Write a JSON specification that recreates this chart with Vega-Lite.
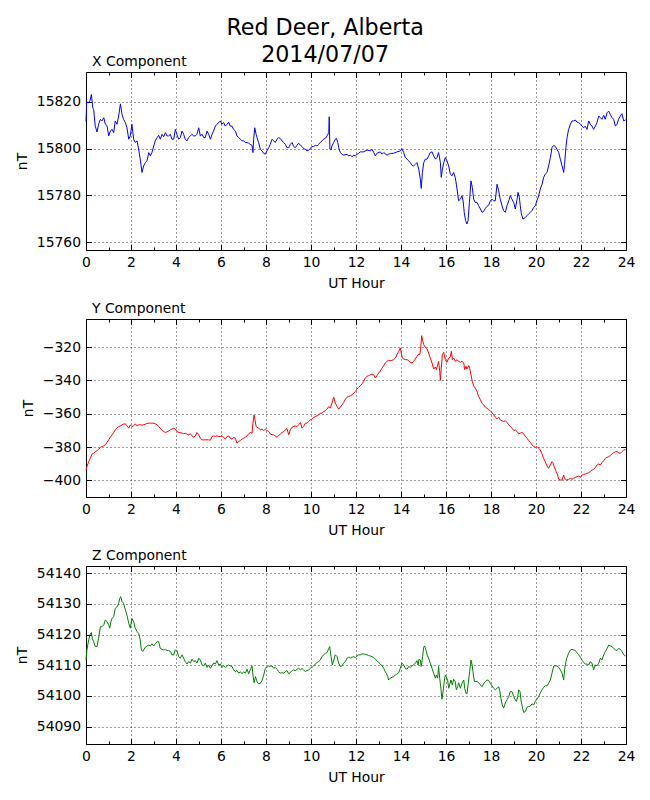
{
  "$schema": "https://vega.github.io/schema/vega-lite/v6.json",
  "background": "white",
  "padding": {"left": 14, "top": 17, "right": 10, "bottom": 10},
  "title": {"text": ["Red Deer, Alberta", "2014/07/07"], "fontSize": 22.2, "lineHeight": 27, "anchor": "middle", "offset": -12},
  "config": {
    "font": "DejaVu Sans",
    "view": {"stroke": "#000", "strokeWidth": 1},
    "axis": {"domain": false, "grid": false, "labelFontSize": 13.9, "labelColor": "#000", "titleFontSize": 13.9, "titleFontWeight": "normal", "titleColor": "#000", "tickColor": "#000", "tickWidth": 1, "gridColor": "#000", "gridDash": [1, 3], "gridWidth": 0.8, "labelFlush": false, "labelOverlap": false},
    "title": {"fontWeight": "normal", "color": "#000"}
  },
  "datasets": {
    "x": [
      {"h":0,"v":15811.5},{"h":0.03,"v":15820},{"h":0.1,"v":15819.5},{"h":0.18,"v":15820.5},{"h":0.24,"v":15823.1},{"h":0.3,"v":15817.4},{"h":0.34,"v":15816.7},{"h":0.41,"v":15809.6},{"h":0.49,"v":15807.1},{"h":0.56,"v":15810.4},{"h":0.64,"v":15812.5},{"h":0.71,"v":15811.8},{"h":0.79,"v":15813.2},{"h":0.86,"v":15810.4},{"h":0.93,"v":15809.9},{"h":1.01,"v":15805.4},{"h":1.08,"v":15807.5},{"h":1.16,"v":15808.2},{"h":1.23,"v":15806.8},{"h":1.3,"v":15811.8},{"h":1.38,"v":15810.4},{"h":1.45,"v":15813.9},{"h":1.53,"v":15819.1},{"h":1.6,"v":15814.6},{"h":1.67,"v":15812.5},{"h":1.75,"v":15811.1},{"h":1.82,"v":15808.9},{"h":1.9,"v":15804},{"h":1.97,"v":15805.4},{"h":2.04,"v":15810.4},{"h":2.12,"v":15804},{"h":2.19,"v":15802.6},{"h":2.27,"v":15803.3},{"h":2.34,"v":15799.7},{"h":2.41,"v":15795.5},{"h":2.49,"v":15789.8},{"h":2.56,"v":15792.6},{"h":2.64,"v":15794},{"h":2.71,"v":15794.8},{"h":2.79,"v":15798.3},{"h":2.86,"v":15796.9},{"h":2.93,"v":15798.3},{"h":3.01,"v":15801.1},{"h":3.08,"v":15803.3},{"h":3.16,"v":15804.7},{"h":3.23,"v":15805.7},{"h":3.3,"v":15804},{"h":3.38,"v":15806.1},{"h":3.45,"v":15805.1},{"h":3.53,"v":15806.8},{"h":3.6,"v":15805.4},{"h":3.67,"v":15805.4},{"h":3.75,"v":15806.1},{"h":3.82,"v":15804},{"h":3.9,"v":15804},{"h":3.97,"v":15808.2},{"h":4.04,"v":15806.1},{"h":4.12,"v":15804},{"h":4.19,"v":15804.7},{"h":4.27,"v":15807.5},{"h":4.34,"v":15806.1},{"h":4.41,"v":15804},{"h":4.49,"v":15803.3},{"h":4.56,"v":15804.7},{"h":4.64,"v":15805.4},{"h":4.71,"v":15806.1},{"h":4.79,"v":15805.4},{"h":4.86,"v":15805.4},{"h":4.93,"v":15806.1},{"h":5.01,"v":15808.9},{"h":5.08,"v":15805.4},{"h":5.16,"v":15806.1},{"h":5.23,"v":15804.7},{"h":5.3,"v":15804.7},{"h":5.38,"v":15807.5},{"h":5.45,"v":15806.1},{"h":5.53,"v":15804},{"h":5.6,"v":15806.1},{"h":5.67,"v":15807.5},{"h":5.75,"v":15809.6},{"h":5.82,"v":15810.4},{"h":5.9,"v":15811.1},{"h":5.97,"v":15811.8},{"h":6.04,"v":15810.4},{"h":6.12,"v":15811.1},{"h":6.19,"v":15809.6},{"h":6.27,"v":15810.4},{"h":6.34,"v":15811.3},{"h":6.41,"v":15809.6},{"h":6.49,"v":15809.6},{"h":6.56,"v":15808.2},{"h":6.64,"v":15807.5},{"h":6.71,"v":15805.4},{"h":6.79,"v":15804.7},{"h":6.86,"v":15804},{"h":6.93,"v":15803.3},{"h":7.01,"v":15803.3},{"h":7.08,"v":15802.6},{"h":7.16,"v":15802.6},{"h":7.23,"v":15802.3},{"h":7.3,"v":15801.8},{"h":7.38,"v":15801.4},{"h":7.42,"v":15798.3},{"h":7.45,"v":15804},{"h":7.5,"v":15808.9},{"h":7.56,"v":15806.1},{"h":7.6,"v":15804.7},{"h":7.67,"v":15802.6},{"h":7.75,"v":15799.7},{"h":7.82,"v":15799},{"h":7.9,"v":15797.9},{"h":7.97,"v":15797.6},{"h":8.04,"v":15799},{"h":8.12,"v":15800.4},{"h":8.19,"v":15801.8},{"h":8.27,"v":15804},{"h":8.34,"v":15803.3},{"h":8.41,"v":15802.6},{"h":8.49,"v":15804},{"h":8.56,"v":15804.7},{"h":8.64,"v":15804.3},{"h":8.71,"v":15803.3},{"h":8.79,"v":15802.6},{"h":8.86,"v":15801.8},{"h":8.93,"v":15800.4},{"h":9.01,"v":15800.4},{"h":9.08,"v":15801.8},{"h":9.16,"v":15802.6},{"h":9.23,"v":15800.9},{"h":9.3,"v":15800.4},{"h":9.38,"v":15801.4},{"h":9.45,"v":15802.3},{"h":9.53,"v":15801.4},{"h":9.6,"v":15800.9},{"h":9.67,"v":15800},{"h":9.75,"v":15799.7},{"h":9.82,"v":15799},{"h":9.9,"v":15799.4},{"h":9.97,"v":15800},{"h":10.04,"v":15800.9},{"h":10.12,"v":15800.9},{"h":10.19,"v":15801.4},{"h":10.27,"v":15801.1},{"h":10.34,"v":15801.8},{"h":10.41,"v":15802.6},{"h":10.49,"v":15803.3},{"h":10.56,"v":15804},{"h":10.64,"v":15804.4},{"h":10.71,"v":15805.4},{"h":10.79,"v":15806.8},{"h":10.81,"v":15813.6},{"h":10.84,"v":15799.7},{"h":10.89,"v":15799.4},{"h":10.93,"v":15801.1},{"h":11.01,"v":15802.6},{"h":11.08,"v":15804},{"h":11.13,"v":15804.4},{"h":11.19,"v":15802.6},{"h":11.23,"v":15800.4},{"h":11.3,"v":15798.3},{"h":11.38,"v":15797.6},{"h":11.45,"v":15797.2},{"h":11.6,"v":15797.6},{"h":11.67,"v":15796.9},{"h":11.75,"v":15797.2},{"h":11.82,"v":15796.5},{"h":11.9,"v":15797.2},{"h":11.97,"v":15796.9},{"h":12.04,"v":15797.5},{"h":12.12,"v":15798},{"h":12.19,"v":15798.6},{"h":12.34,"v":15798.6},{"h":12.49,"v":15799.4},{"h":12.64,"v":15799},{"h":12.71,"v":15799.7},{"h":12.79,"v":15798.3},{"h":12.86,"v":15796.9},{"h":12.93,"v":15798},{"h":13.08,"v":15798.6},{"h":13.16,"v":15797.6},{"h":13.23,"v":15798.3},{"h":13.38,"v":15797.2},{"h":13.45,"v":15797.6},{"h":13.53,"v":15797.9},{"h":13.67,"v":15798},{"h":13.82,"v":15798.6},{"h":13.97,"v":15799},{"h":14.04,"v":15800},{"h":14.12,"v":15798.3},{"h":14.19,"v":15796.2},{"h":14.27,"v":15795.5},{"h":14.34,"v":15794.8},{"h":14.41,"v":15794},{"h":14.49,"v":15792.9},{"h":14.56,"v":15792.6},{"h":14.64,"v":15793.3},{"h":14.71,"v":15794},{"h":14.79,"v":15791.2},{"h":14.86,"v":15786.9},{"h":14.9,"v":15783},{"h":14.95,"v":15789.8},{"h":15.01,"v":15794},{"h":15.08,"v":15795.5},{"h":15.16,"v":15795.5},{"h":15.23,"v":15796.9},{"h":15.3,"v":15798.3},{"h":15.38,"v":15798.6},{"h":15.45,"v":15796.9},{"h":15.53,"v":15795.5},{"h":15.6,"v":15796.2},{"h":15.67,"v":15798.3},{"h":15.75,"v":15794},{"h":15.79,"v":15787.7},{"h":15.84,"v":15791.2},{"h":15.9,"v":15794},{"h":15.97,"v":15796.2},{"h":16.04,"v":15794.8},{"h":16.12,"v":15792.6},{"h":16.19,"v":15789.1},{"h":16.27,"v":15788.4},{"h":16.34,"v":15789.8},{"h":16.41,"v":15787.7},{"h":16.46,"v":15784.8},{"h":16.52,"v":15780.6},{"h":16.56,"v":15777.7},{"h":16.64,"v":15778.4},{"h":16.71,"v":15779.9},{"h":16.76,"v":15777.7},{"h":16.81,"v":15772.8},{"h":16.87,"v":15769.2},{"h":16.93,"v":15767.8},{"h":16.98,"v":15769.2},{"h":17.04,"v":15777},{"h":17.11,"v":15786.2},{"h":17.17,"v":15783.4},{"h":17.23,"v":15778.4},{"h":17.3,"v":15777},{"h":17.38,"v":15777},{"h":17.45,"v":15775.6},{"h":17.53,"v":15774.2},{"h":17.6,"v":15772.8},{"h":17.67,"v":15773.1},{"h":17.75,"v":15774.5},{"h":17.82,"v":15775.3},{"h":17.9,"v":15775.9},{"h":17.97,"v":15777.7},{"h":18.04,"v":15778.4},{"h":18.12,"v":15777.7},{"h":18.19,"v":15777.7},{"h":18.27,"v":15784.8},{"h":18.34,"v":15782},{"h":18.41,"v":15778.4},{"h":18.49,"v":15775.6},{"h":18.56,"v":15773.5},{"h":18.64,"v":15772.8},{"h":18.71,"v":15775.6},{"h":18.79,"v":15777.7},{"h":18.86,"v":15779.9},{"h":18.93,"v":15778.4},{"h":19.01,"v":15777},{"h":19.08,"v":15774.2},{"h":19.16,"v":15778.4},{"h":19.2,"v":15781.3},{"h":19.26,"v":15779.2},{"h":19.3,"v":15775.6},{"h":19.35,"v":15772.1},{"h":19.42,"v":15769.9},{"h":19.53,"v":15770.6},{"h":19.6,"v":15771.4},{"h":19.67,"v":15772.1},{"h":19.75,"v":15772.8},{"h":19.82,"v":15773.5},{"h":19.9,"v":15774.9},{"h":19.97,"v":15775.6},{"h":20.04,"v":15777.7},{"h":20.12,"v":15779.9},{"h":20.19,"v":15782.7},{"h":20.27,"v":15784.8},{"h":20.34,"v":15787.7},{"h":20.41,"v":15789.1},{"h":20.49,"v":15789.8},{"h":20.56,"v":15792.6},{"h":20.64,"v":15796.2},{"h":20.71,"v":15800.4},{"h":20.79,"v":15801.4},{"h":20.86,"v":15800.9},{"h":20.93,"v":15799.7},{"h":21.01,"v":15798.3},{"h":21.08,"v":15795.5},{"h":21.16,"v":15792.6},{"h":21.23,"v":15789.8},{"h":21.27,"v":15793.3},{"h":21.33,"v":15800.4},{"h":21.38,"v":15804.7},{"h":21.45,"v":15808.2},{"h":21.53,"v":15810.4},{"h":21.6,"v":15811.8},{"h":21.67,"v":15811.8},{"h":21.75,"v":15812.2},{"h":21.82,"v":15811.3},{"h":21.9,"v":15811.1},{"h":21.97,"v":15810.4},{"h":22.04,"v":15809.6},{"h":22.12,"v":15808.9},{"h":22.19,"v":15809.6},{"h":22.27,"v":15808.2},{"h":22.34,"v":15811.8},{"h":22.41,"v":15810.4},{"h":22.49,"v":15809.6},{"h":22.56,"v":15808.2},{"h":22.64,"v":15809.6},{"h":22.71,"v":15811.1},{"h":22.79,"v":15813.9},{"h":22.86,"v":15813.2},{"h":22.93,"v":15812.5},{"h":23.01,"v":15814.2},{"h":23.08,"v":15812.5},{"h":23.16,"v":15815.3},{"h":23.23,"v":15816},{"h":23.3,"v":15814.6},{"h":23.38,"v":15813.2},{"h":23.45,"v":15812.5},{"h":23.53,"v":15809.6},{"h":23.6,"v":15810.4},{"h":23.67,"v":15812.5},{"h":23.75,"v":15813.9},{"h":23.82,"v":15814.9},{"h":23.9,"v":15811.8},{"h":23.98,"v":15812.3}
    ],
    "y": [
      {"h":0,"v":-393.8},{"h":0.04,"v":-391.8},{"h":0.12,"v":-388.8},{"h":0.19,"v":-386.8},{"h":0.27,"v":-384.2},{"h":0.34,"v":-383.8},{"h":0.41,"v":-382.8},{"h":0.49,"v":-382.2},{"h":0.56,"v":-381.4},{"h":0.64,"v":-380.2},{"h":0.71,"v":-379.7},{"h":0.79,"v":-379.3},{"h":0.86,"v":-378.7},{"h":0.93,"v":-377.3},{"h":1.01,"v":-375.7},{"h":1.08,"v":-374.1},{"h":1.16,"v":-372.7},{"h":1.23,"v":-371.3},{"h":1.3,"v":-369.7},{"h":1.38,"v":-368.7},{"h":1.45,"v":-367.7},{"h":1.53,"v":-367.3},{"h":1.6,"v":-366.7},{"h":1.67,"v":-366.3},{"h":1.75,"v":-366.1},{"h":1.82,"v":-367.3},{"h":1.9,"v":-368.7},{"h":1.97,"v":-366.7},{"h":2.04,"v":-367.7},{"h":2.12,"v":-367.3},{"h":2.19,"v":-366.1},{"h":2.27,"v":-367.3},{"h":2.34,"v":-366.7},{"h":2.41,"v":-366.7},{"h":2.49,"v":-366.9},{"h":2.56,"v":-366.7},{"h":2.64,"v":-366.3},{"h":2.71,"v":-365.9},{"h":2.79,"v":-365.7},{"h":2.86,"v":-365.7},{"h":2.93,"v":-365.7},{"h":3.01,"v":-365.7},{"h":3.08,"v":-366.1},{"h":3.16,"v":-366.7},{"h":3.23,"v":-367.7},{"h":3.3,"v":-368.7},{"h":3.38,"v":-370.1},{"h":3.45,"v":-370.7},{"h":3.53,"v":-371.3},{"h":3.6,"v":-370.9},{"h":3.67,"v":-370.5},{"h":3.75,"v":-369.7},{"h":3.82,"v":-369.3},{"h":3.9,"v":-368.7},{"h":3.97,"v":-369.3},{"h":4.04,"v":-370.7},{"h":4.12,"v":-371.3},{"h":4.19,"v":-371.3},{"h":4.27,"v":-371.7},{"h":4.34,"v":-372.1},{"h":4.41,"v":-371.7},{"h":4.49,"v":-372.3},{"h":4.56,"v":-372.7},{"h":4.64,"v":-372.1},{"h":4.71,"v":-373.3},{"h":4.79,"v":-374.1},{"h":4.86,"v":-373.3},{"h":4.93,"v":-371.3},{"h":5.01,"v":-372.7},{"h":5.08,"v":-374.7},{"h":5.16,"v":-375.7},{"h":5.23,"v":-375.7},{"h":5.3,"v":-375.7},{"h":5.38,"v":-375.7},{"h":5.45,"v":-375.7},{"h":5.53,"v":-375.9},{"h":5.6,"v":-373.7},{"h":5.67,"v":-373.3},{"h":5.75,"v":-373.7},{"h":5.82,"v":-373.3},{"h":5.9,"v":-373.7},{"h":5.97,"v":-373.7},{"h":6.04,"v":-373.3},{"h":6.12,"v":-374.1},{"h":6.19,"v":-375.3},{"h":6.27,"v":-373.7},{"h":6.34,"v":-373.3},{"h":6.41,"v":-374.7},{"h":6.49,"v":-375.3},{"h":6.56,"v":-374.3},{"h":6.64,"v":-374.7},{"h":6.71,"v":-377.7},{"h":6.79,"v":-376.7},{"h":6.86,"v":-376.1},{"h":6.93,"v":-375.3},{"h":7.01,"v":-374.7},{"h":7.08,"v":-374.1},{"h":7.16,"v":-373.3},{"h":7.23,"v":-372.1},{"h":7.3,"v":-371.3},{"h":7.38,"v":-371.7},{"h":7.42,"v":-365.7},{"h":7.47,"v":-360.7},{"h":7.51,"v":-363.7},{"h":7.56,"v":-367.7},{"h":7.6,"v":-368.1},{"h":7.67,"v":-368.7},{"h":7.75,"v":-369.7},{"h":7.82,"v":-369.3},{"h":7.9,"v":-370.1},{"h":7.97,"v":-369.3},{"h":8.04,"v":-370.1},{"h":8.12,"v":-370.7},{"h":8.19,"v":-372.1},{"h":8.27,"v":-372.7},{"h":8.34,"v":-372.7},{"h":8.41,"v":-373.3},{"h":8.49,"v":-374.1},{"h":8.56,"v":-373.3},{"h":8.64,"v":-372.1},{"h":8.71,"v":-371.3},{"h":8.79,"v":-370.7},{"h":8.86,"v":-369.7},{"h":8.93,"v":-368.9},{"h":9.01,"v":-372.7},{"h":9.08,"v":-369.7},{"h":9.16,"v":-368.1},{"h":9.23,"v":-367.7},{"h":9.3,"v":-367.3},{"h":9.38,"v":-367.7},{"h":9.45,"v":-366.7},{"h":9.53,"v":-365.3},{"h":9.6,"v":-368.7},{"h":9.67,"v":-367.7},{"h":9.75,"v":-365.7},{"h":9.82,"v":-365.7},{"h":9.9,"v":-364.7},{"h":9.97,"v":-363.7},{"h":10.04,"v":-363.3},{"h":10.12,"v":-362.3},{"h":10.19,"v":-361.7},{"h":10.27,"v":-361.3},{"h":10.34,"v":-360.7},{"h":10.41,"v":-359.7},{"h":10.49,"v":-359.7},{"h":10.56,"v":-358.7},{"h":10.64,"v":-358.1},{"h":10.71,"v":-357.3},{"h":10.79,"v":-355.7},{"h":10.86,"v":-356.7},{"h":10.93,"v":-353.7},{"h":11.01,"v":-350.1},{"h":11.08,"v":-353.7},{"h":11.16,"v":-355.7},{"h":11.23,"v":-357.3},{"h":11.3,"v":-356.1},{"h":11.38,"v":-354.7},{"h":11.45,"v":-353.3},{"h":11.53,"v":-351.3},{"h":11.6,"v":-350.1},{"h":11.67,"v":-349.7},{"h":11.75,"v":-349.3},{"h":11.82,"v":-348.7},{"h":11.9,"v":-347.7},{"h":11.97,"v":-346.7},{"h":12.04,"v":-345.3},{"h":12.12,"v":-344.1},{"h":12.19,"v":-343.3},{"h":12.27,"v":-342.1},{"h":12.34,"v":-340.7},{"h":12.41,"v":-338.6},{"h":12.49,"v":-337.6},{"h":12.56,"v":-337.2},{"h":12.64,"v":-336.6},{"h":12.71,"v":-336.2},{"h":12.79,"v":-336.6},{"h":12.86,"v":-338.6},{"h":12.93,"v":-337.2},{"h":13.01,"v":-335.6},{"h":13.08,"v":-334.4},{"h":13.16,"v":-332.6},{"h":13.23,"v":-331.2},{"h":13.3,"v":-329.6},{"h":13.38,"v":-328.6},{"h":13.45,"v":-328},{"h":13.53,"v":-328.2},{"h":13.6,"v":-328},{"h":13.67,"v":-327.6},{"h":13.75,"v":-326.6},{"h":13.82,"v":-324.6},{"h":13.9,"v":-322.6},{"h":13.97,"v":-320.6},{"h":14.01,"v":-323.6},{"h":14.06,"v":-326.6},{"h":14.12,"v":-327.2},{"h":14.19,"v":-327.6},{"h":14.27,"v":-327.6},{"h":14.34,"v":-328.2},{"h":14.41,"v":-329.2},{"h":14.49,"v":-329.6},{"h":14.56,"v":-328.6},{"h":14.64,"v":-327.2},{"h":14.71,"v":-325.6},{"h":14.79,"v":-324.2},{"h":14.83,"v":-324.6},{"h":14.87,"v":-321.6},{"h":14.92,"v":-313.2},{"h":14.96,"v":-316},{"h":15.01,"v":-318.6},{"h":15.08,"v":-320},{"h":15.16,"v":-321.2},{"h":15.23,"v":-323.6},{"h":15.3,"v":-326.6},{"h":15.38,"v":-329.6},{"h":15.45,"v":-333.2},{"h":15.53,"v":-332},{"h":15.57,"v":-333.6},{"h":15.63,"v":-330.6},{"h":15.67,"v":-328.6},{"h":15.72,"v":-334.6},{"h":15.75,"v":-340},{"h":15.79,"v":-332.6},{"h":15.84,"v":-324.6},{"h":15.9,"v":-323.2},{"h":15.97,"v":-327.6},{"h":16.04,"v":-329.2},{"h":16.12,"v":-326.6},{"h":16.19,"v":-326},{"h":16.24,"v":-322.6},{"h":16.28,"v":-327.6},{"h":16.34,"v":-326.6},{"h":16.41,"v":-328.6},{"h":16.49,"v":-327.6},{"h":16.56,"v":-328.6},{"h":16.64,"v":-329.2},{"h":16.71,"v":-328.6},{"h":16.79,"v":-329.6},{"h":16.83,"v":-333.6},{"h":16.89,"v":-331.6},{"h":16.93,"v":-333.2},{"h":17.01,"v":-331.2},{"h":17.05,"v":-332.6},{"h":17.11,"v":-336.6},{"h":17.17,"v":-340.7},{"h":17.23,"v":-343.3},{"h":17.3,"v":-344.7},{"h":17.38,"v":-346.7},{"h":17.45,"v":-349.7},{"h":17.53,"v":-351.7},{"h":17.6,"v":-353.7},{"h":17.67,"v":-354.7},{"h":17.75,"v":-356.1},{"h":17.82,"v":-356.7},{"h":17.9,"v":-357.7},{"h":17.97,"v":-358.3},{"h":18.04,"v":-359.3},{"h":18.12,"v":-360.7},{"h":18.19,"v":-362.1},{"h":18.27,"v":-363.1},{"h":18.34,"v":-362.1},{"h":18.41,"v":-363.7},{"h":18.49,"v":-364.3},{"h":18.56,"v":-364.7},{"h":18.64,"v":-364.3},{"h":18.71,"v":-365.3},{"h":18.79,"v":-366.7},{"h":18.86,"v":-367.7},{"h":18.93,"v":-368.7},{"h":19.01,"v":-370.1},{"h":19.08,"v":-369.7},{"h":19.16,"v":-370.7},{"h":19.23,"v":-372.1},{"h":19.3,"v":-371.7},{"h":19.38,"v":-371.3},{"h":19.45,"v":-372.1},{"h":19.53,"v":-373.7},{"h":19.6,"v":-374.7},{"h":19.67,"v":-376.1},{"h":19.75,"v":-377.3},{"h":19.82,"v":-378.7},{"h":19.9,"v":-379.7},{"h":19.97,"v":-380.2},{"h":20.04,"v":-379.7},{"h":20.12,"v":-380.8},{"h":20.19,"v":-381.8},{"h":20.27,"v":-384.2},{"h":20.34,"v":-386.8},{"h":20.41,"v":-388.8},{"h":20.49,"v":-391.4},{"h":20.56,"v":-392.8},{"h":20.64,"v":-390.8},{"h":20.71,"v":-388.8},{"h":20.75,"v":-389.4},{"h":20.81,"v":-391.8},{"h":20.9,"v":-394.8},{"h":20.96,"v":-396.8},{"h":21.01,"v":-399.4},{"h":21.08,"v":-399.8},{"h":21.16,"v":-399.8},{"h":21.23,"v":-396.8},{"h":21.27,"v":-398.8},{"h":21.35,"v":-399.8},{"h":21.45,"v":-399.4},{"h":21.53,"v":-398.8},{"h":21.6,"v":-399.4},{"h":21.67,"v":-398.8},{"h":21.75,"v":-398.2},{"h":21.82,"v":-397.8},{"h":21.9,"v":-397.4},{"h":21.97,"v":-398.2},{"h":22.04,"v":-396.8},{"h":22.12,"v":-396.4},{"h":22.19,"v":-396.2},{"h":22.27,"v":-395.8},{"h":22.34,"v":-395.4},{"h":22.41,"v":-394.8},{"h":22.49,"v":-393.8},{"h":22.56,"v":-393.4},{"h":22.64,"v":-392.2},{"h":22.71,"v":-390.8},{"h":22.79,"v":-390.2},{"h":22.86,"v":-390.8},{"h":22.93,"v":-389.4},{"h":23.01,"v":-388.2},{"h":23.08,"v":-386.8},{"h":23.16,"v":-386.2},{"h":23.23,"v":-385.8},{"h":23.3,"v":-385.2},{"h":23.38,"v":-384.2},{"h":23.45,"v":-383.4},{"h":23.53,"v":-382.8},{"h":23.6,"v":-382.8},{"h":23.67,"v":-383.4},{"h":23.75,"v":-383.8},{"h":23.82,"v":-382.8},{"h":23.9,"v":-381.8},{"h":23.98,"v":-381.5}
    ],
    "z": [
      {"h":0,"v":54111.7},{"h":0.04,"v":54115},{"h":0.12,"v":54118.3},{"h":0.19,"v":54120.2},{"h":0.24,"v":54120.7},{"h":0.28,"v":54118.8},{"h":0.34,"v":54117.7},{"h":0.41,"v":54116.1},{"h":0.49,"v":54116.1},{"h":0.56,"v":54118.8},{"h":0.64,"v":54122.6},{"h":0.71,"v":54122.6},{"h":0.79,"v":54123.2},{"h":0.86,"v":54124.8},{"h":0.93,"v":54124.2},{"h":1.01,"v":54123.2},{"h":1.05,"v":54122.1},{"h":1.11,"v":54124.2},{"h":1.16,"v":54125.3},{"h":1.23,"v":54125.9},{"h":1.3,"v":54128.6},{"h":1.38,"v":54129.1},{"h":1.45,"v":54130.2},{"h":1.5,"v":54131.8},{"h":1.54,"v":54132.4},{"h":1.6,"v":54130.8},{"h":1.67,"v":54130.2},{"h":1.75,"v":54128},{"h":1.82,"v":54126.4},{"h":1.9,"v":54123.7},{"h":1.97,"v":54122.1},{"h":2.04,"v":54125.3},{"h":2.12,"v":54124.2},{"h":2.19,"v":54122.1},{"h":2.27,"v":54121},{"h":2.34,"v":54120.4},{"h":2.41,"v":54118.3},{"h":2.46,"v":54115},{"h":2.52,"v":54114.5},{"h":2.56,"v":54115},{"h":2.64,"v":54115.9},{"h":2.71,"v":54116.3},{"h":2.79,"v":54116.6},{"h":2.86,"v":54116.3},{"h":2.93,"v":54117},{"h":3.01,"v":54116.3},{"h":3.08,"v":54117},{"h":3.16,"v":54117.7},{"h":3.23,"v":54117.7},{"h":3.3,"v":54115.5},{"h":3.38,"v":54115.2},{"h":3.45,"v":54115},{"h":3.53,"v":54115.2},{"h":3.6,"v":54114.8},{"h":3.67,"v":54114.8},{"h":3.75,"v":54114.5},{"h":3.82,"v":54113.4},{"h":3.9,"v":54113.4},{"h":3.97,"v":54115},{"h":4.04,"v":54114.8},{"h":4.12,"v":54112.8},{"h":4.19,"v":54112.3},{"h":4.27,"v":54113.4},{"h":4.34,"v":54112.3},{"h":4.41,"v":54111.2},{"h":4.49,"v":54110.4},{"h":4.56,"v":54111.2},{"h":4.64,"v":54110.7},{"h":4.71,"v":54112},{"h":4.79,"v":54111.2},{"h":4.86,"v":54111.5},{"h":4.93,"v":54110.7},{"h":5.01,"v":54112.3},{"h":5.08,"v":54111.7},{"h":5.16,"v":54110.1},{"h":5.23,"v":54109.8},{"h":5.3,"v":54110.7},{"h":5.38,"v":54109.3},{"h":5.45,"v":54110.1},{"h":5.53,"v":54109},{"h":5.6,"v":54109.8},{"h":5.67,"v":54110.7},{"h":5.75,"v":54110.4},{"h":5.82,"v":54111.5},{"h":5.9,"v":54110.1},{"h":5.97,"v":54110.4},{"h":6.04,"v":54109.3},{"h":6.12,"v":54109.8},{"h":6.19,"v":54109.3},{"h":6.27,"v":54109.8},{"h":6.34,"v":54110.1},{"h":6.41,"v":54109.8},{"h":6.49,"v":54109.6},{"h":6.56,"v":54108.5},{"h":6.64,"v":54107.9},{"h":6.71,"v":54108.3},{"h":6.79,"v":54107.4},{"h":6.86,"v":54107.9},{"h":6.93,"v":54107.2},{"h":7.01,"v":54107.9},{"h":7.08,"v":54107.4},{"h":7.16,"v":54108.7},{"h":7.23,"v":54107.2},{"h":7.3,"v":54108.5},{"h":7.38,"v":54109.8},{"h":7.42,"v":54106.8},{"h":7.47,"v":54104.3},{"h":7.53,"v":54106.3},{"h":7.6,"v":54104.7},{"h":7.67,"v":54103.9},{"h":7.75,"v":54104.1},{"h":7.82,"v":54105},{"h":7.9,"v":54106.8},{"h":7.97,"v":54109},{"h":8.04,"v":54109.3},{"h":8.12,"v":54109.8},{"h":8.19,"v":54109.6},{"h":8.27,"v":54109.8},{"h":8.34,"v":54109},{"h":8.41,"v":54109.3},{"h":8.49,"v":54108.7},{"h":8.56,"v":54107.9},{"h":8.64,"v":54107.4},{"h":8.71,"v":54107.6},{"h":8.79,"v":54107.4},{"h":8.86,"v":54107.9},{"h":8.93,"v":54108.3},{"h":9.01,"v":54107.2},{"h":9.08,"v":54107.6},{"h":9.16,"v":54108.3},{"h":9.23,"v":54108.5},{"h":9.3,"v":54108.2},{"h":9.38,"v":54108.7},{"h":9.45,"v":54109},{"h":9.53,"v":54108.5},{"h":9.6,"v":54109},{"h":9.67,"v":54108.5},{"h":9.75,"v":54107.9},{"h":9.82,"v":54108.3},{"h":9.9,"v":54108.5},{"h":9.97,"v":54109},{"h":10.04,"v":54109.3},{"h":10.12,"v":54109.8},{"h":10.19,"v":54110.4},{"h":10.27,"v":54110.9},{"h":10.34,"v":54111.2},{"h":10.41,"v":54111.7},{"h":10.49,"v":54112.8},{"h":10.56,"v":54113.4},{"h":10.64,"v":54113.9},{"h":10.71,"v":54114.1},{"h":10.79,"v":54115.5},{"h":10.83,"v":54116.1},{"h":10.89,"v":54112.8},{"h":10.95,"v":54110.1},{"h":11.01,"v":54111.7},{"h":11.08,"v":54113.4},{"h":11.16,"v":54112.8},{"h":11.23,"v":54110.7},{"h":11.3,"v":54109.6},{"h":11.38,"v":54109.8},{"h":11.45,"v":54110.7},{"h":11.53,"v":54111.2},{"h":11.6,"v":54112.3},{"h":11.67,"v":54112.6},{"h":11.75,"v":54112.3},{"h":11.82,"v":54112.6},{"h":11.9,"v":54112.8},{"h":11.97,"v":54112.5},{"h":12.04,"v":54113},{"h":12.12,"v":54113.4},{"h":12.19,"v":54113.4},{"h":12.27,"v":54113.7},{"h":12.34,"v":54113.7},{"h":12.41,"v":54113.6},{"h":12.49,"v":54113.4},{"h":12.56,"v":54113.2},{"h":12.64,"v":54113},{"h":12.71,"v":54112.8},{"h":12.79,"v":54112.5},{"h":12.86,"v":54112},{"h":12.93,"v":54111.5},{"h":13.01,"v":54110.9},{"h":13.08,"v":54110.4},{"h":13.16,"v":54109.8},{"h":13.23,"v":54109},{"h":13.3,"v":54107.9},{"h":13.35,"v":54107.4},{"h":13.41,"v":54106.3},{"h":13.45,"v":54105.2},{"h":13.53,"v":54105.8},{"h":13.6,"v":54106.1},{"h":13.67,"v":54106.3},{"h":13.75,"v":54106.8},{"h":13.82,"v":54107.2},{"h":13.9,"v":54107.6},{"h":13.97,"v":54109},{"h":14.04,"v":54110.7},{"h":14.12,"v":54110.1},{"h":14.19,"v":54109},{"h":14.27,"v":54108.7},{"h":14.34,"v":54109.6},{"h":14.41,"v":54109.3},{"h":14.49,"v":54109.8},{"h":14.56,"v":54110.1},{"h":14.64,"v":54110.7},{"h":14.71,"v":54111.5},{"h":14.76,"v":54110.1},{"h":14.8,"v":54112},{"h":14.86,"v":54111.7},{"h":14.9,"v":54109.6},{"h":14.96,"v":54112.8},{"h":15.01,"v":54115.9},{"h":15.05,"v":54116.3},{"h":15.11,"v":54115},{"h":15.16,"v":54113.4},{"h":15.23,"v":54112.3},{"h":15.3,"v":54110.7},{"h":15.38,"v":54109},{"h":15.45,"v":54107.4},{"h":15.53,"v":54105.8},{"h":15.57,"v":54106.8},{"h":15.63,"v":54105.8},{"h":15.67,"v":54109.6},{"h":15.72,"v":54105.8},{"h":15.78,"v":54102},{"h":15.82,"v":54098.9},{"h":15.87,"v":54101.4},{"h":15.93,"v":54105.2},{"h":15.97,"v":54106.8},{"h":16.01,"v":54106.3},{"h":16.07,"v":54105.2},{"h":16.12,"v":54102.5},{"h":16.16,"v":54103.6},{"h":16.22,"v":54105.2},{"h":16.28,"v":54103.6},{"h":16.34,"v":54105.4},{"h":16.41,"v":54104.7},{"h":16.46,"v":54102},{"h":16.52,"v":54103},{"h":16.56,"v":54104.3},{"h":16.64,"v":54102.5},{"h":16.71,"v":54104.1},{"h":16.79,"v":54105.2},{"h":16.83,"v":54102.5},{"h":16.89,"v":54100.9},{"h":16.93,"v":54100.6},{"h":16.99,"v":54104.1},{"h":17.05,"v":54107.9},{"h":17.11,"v":54111.7},{"h":17.16,"v":54110.1},{"h":17.2,"v":54107.9},{"h":17.26,"v":54104.7},{"h":17.32,"v":54104.7},{"h":17.38,"v":54104.7},{"h":17.45,"v":54104.3},{"h":17.53,"v":54103.6},{"h":17.6,"v":54103},{"h":17.67,"v":54103.9},{"h":17.75,"v":54104.7},{"h":17.82,"v":54105.2},{"h":17.9,"v":54105},{"h":17.97,"v":54104.1},{"h":18.04,"v":54103.3},{"h":18.12,"v":54102.5},{"h":18.19,"v":54102},{"h":18.27,"v":54102.5},{"h":18.34,"v":54103},{"h":18.39,"v":54101.7},{"h":18.44,"v":54099.2},{"h":18.5,"v":54097.1},{"h":18.56,"v":54096},{"h":18.61,"v":54097.1},{"h":18.67,"v":54098.2},{"h":18.71,"v":54098.7},{"h":18.79,"v":54099.8},{"h":18.86,"v":54101.4},{"h":18.93,"v":54101.4},{"h":19.01,"v":54099.8},{"h":19.08,"v":54098.7},{"h":19.13,"v":54098.2},{"h":19.19,"v":54099.8},{"h":19.23,"v":54102},{"h":19.29,"v":54101.4},{"h":19.33,"v":54098.7},{"h":19.39,"v":54096.5},{"h":19.45,"v":54094.6},{"h":19.53,"v":54094.9},{"h":19.6,"v":54096.3},{"h":19.67,"v":54096.5},{"h":19.75,"v":54096.7},{"h":19.82,"v":54097.4},{"h":19.9,"v":54097.1},{"h":19.97,"v":54098.2},{"h":20.04,"v":54098.9},{"h":20.12,"v":54099.8},{"h":20.19,"v":54100.9},{"h":20.27,"v":54102},{"h":20.34,"v":54102.8},{"h":20.41,"v":54103.3},{"h":20.49,"v":54103.3},{"h":20.56,"v":54104.1},{"h":20.64,"v":54105.2},{"h":20.71,"v":54107.4},{"h":20.79,"v":54109.8},{"h":20.86,"v":54109.8},{"h":20.93,"v":54109.8},{"h":21.01,"v":54109.3},{"h":21.08,"v":54108.5},{"h":21.16,"v":54107.4},{"h":21.23,"v":54105.2},{"h":21.27,"v":54108.5},{"h":21.33,"v":54111.2},{"h":21.38,"v":54112.6},{"h":21.45,"v":54113.9},{"h":21.53,"v":54115},{"h":21.6,"v":54115.2},{"h":21.67,"v":54115},{"h":21.75,"v":54114.8},{"h":21.82,"v":54114.1},{"h":21.9,"v":54113.4},{"h":21.97,"v":54112.6},{"h":22.04,"v":54111.7},{"h":22.12,"v":54110.9},{"h":22.19,"v":54110.4},{"h":22.27,"v":54110.4},{"h":22.34,"v":54110.1},{"h":22.41,"v":54111.2},{"h":22.49,"v":54110.7},{"h":22.56,"v":54108.5},{"h":22.64,"v":54110.1},{"h":22.71,"v":54109.8},{"h":22.79,"v":54110.7},{"h":22.86,"v":54112.3},{"h":22.93,"v":54111.7},{"h":23.01,"v":54113.4},{"h":23.08,"v":54114.5},{"h":23.16,"v":54115.5},{"h":23.23,"v":54116.6},{"h":23.3,"v":54116.3},{"h":23.38,"v":54116.1},{"h":23.45,"v":54115.5},{"h":23.53,"v":54115},{"h":23.6,"v":54114.8},{"h":23.67,"v":54115.5},{"h":23.75,"v":54115.2},{"h":23.82,"v":54114.5},{"h":23.9,"v":54113.4},{"h":23.98,"v":54113}
    ]
  },
  "spacing": 69,
  "bounds": "flush",
  "vconcat": [
    {
      "width": 540, "height": 178,
      "title": {"text": "X Component", "anchor": "start", "frame": "group", "dx": 6, "fontSize": 13.9, "baseline": "alphabetic", "offset": -8.3},
      "data": {"name": "x"},
      "layer": [
        {"mark": {"type": "line", "color": "#0000ff", "strokeWidth": 1},
         "encoding": {
           "x": {"field": "h", "type": "quantitative", "scale": {"domain": [0, 24], "nice": false}, "axis": {"orient": "bottom", "values": [0,2,4,6,8,10,12,14,16,18,20,22,24], "grid": true, "tickSize": -5.5, "labelPadding": 11, "format": "d", "title": "UT Hour", "titlePadding": 7}},
           "y": {"field": "v", "type": "quantitative", "scale": {"domain": [15756.7, 15832.7], "nice": false, "zero": false}, "axis": {"orient": "left", "values": [15760,15780,15800,15820], "grid": true, "tickSize": -5.5, "labelPadding": 11, "format": "d", "title": "nT", "titlePadding": 7}}}},
        {"mark": {"type": "line", "opacity": 0},
         "encoding": {
           "x": {"field": "h", "type": "quantitative", "scale": {"domain": [0, 24], "nice": false}, "axis": {"orient": "bottom", "values": [1,3,5,7,9,11,13,15,17,19,21,23], "tickSize": -3, "labels": false, "title": null}},
           "y": {"field": "v", "type": "quantitative", "scale": {"domain": [15756.7, 15832.7], "nice": false, "zero": false}, "axis": {"orient": "right", "values": [15760,15780,15800,15820], "tickSize": -5.5, "labels": false, "title": null}}}},
        {"mark": {"type": "line", "opacity": 0},
         "encoding": {
           "x": {"field": "h", "type": "quantitative", "scale": {"domain": [0, 24], "nice": false}, "axis": {"orient": "top", "values": [0,2,4,6,8,10,12,14,16,18,20,22,24], "tickSize": -5.5, "labels": false, "title": null}},
           "y": {"field": "v", "type": "quantitative", "scale": {"domain": [15756.7, 15832.7], "nice": false, "zero": false}, "axis": null}}},
        {"mark": {"type": "line", "opacity": 0},
         "encoding": {
           "x": {"field": "h", "type": "quantitative", "scale": {"domain": [0, 24], "nice": false}, "axis": {"orient": "top", "values": [1,3,5,7,9,11,13,15,17,19,21,23], "tickSize": -3, "labels": false, "title": null}},
           "y": {"field": "v", "type": "quantitative", "scale": {"domain": [15756.7, 15832.7], "nice": false, "zero": false}, "axis": null}}}
      ],
      "resolve": {"axis": {"x": "independent", "y": "independent"}}
    },
    {
      "width": 540, "height": 178,
      "title": {"text": "Y Component", "anchor": "start", "frame": "group", "dx": 6, "fontSize": 13.9, "baseline": "alphabetic", "offset": -8.3},
      "data": {"name": "y"},
      "layer": [
        {"mark": {"type": "line", "color": "#ff0000", "strokeWidth": 1},
         "encoding": {
           "x": {"field": "h", "type": "quantitative", "scale": {"domain": [0, 24], "nice": false}, "axis": {"orient": "bottom", "values": [0,2,4,6,8,10,12,14,16,18,20,22,24], "grid": true, "tickSize": -5.5, "labelPadding": 11, "format": "d", "title": "UT Hour", "titlePadding": 7}},
           "y": {"field": "v", "type": "quantitative", "scale": {"domain": [-410, -303.2], "nice": false, "zero": false}, "axis": {"orient": "left", "values": [-400,-380,-360,-340,-320], "grid": true, "tickSize": -5.5, "labelPadding": 11, "format": "d", "title": "nT", "titlePadding": 7}}}},
        {"mark": {"type": "line", "opacity": 0},
         "encoding": {
           "x": {"field": "h", "type": "quantitative", "scale": {"domain": [0, 24], "nice": false}, "axis": {"orient": "bottom", "values": [1,3,5,7,9,11,13,15,17,19,21,23], "tickSize": -3, "labels": false, "title": null}},
           "y": {"field": "v", "type": "quantitative", "scale": {"domain": [-410, -303.2], "nice": false, "zero": false}, "axis": {"orient": "right", "values": [-400,-380,-360,-340,-320], "tickSize": -5.5, "labels": false, "title": null}}}},
        {"mark": {"type": "line", "opacity": 0},
         "encoding": {
           "x": {"field": "h", "type": "quantitative", "scale": {"domain": [0, 24], "nice": false}, "axis": {"orient": "top", "values": [0,2,4,6,8,10,12,14,16,18,20,22,24], "tickSize": -5.5, "labels": false, "title": null}},
           "y": {"field": "v", "type": "quantitative", "scale": {"domain": [-410, -303.2], "nice": false, "zero": false}, "axis": null}}},
        {"mark": {"type": "line", "opacity": 0},
         "encoding": {
           "x": {"field": "h", "type": "quantitative", "scale": {"domain": [0, 24], "nice": false}, "axis": {"orient": "top", "values": [1,3,5,7,9,11,13,15,17,19,21,23], "tickSize": -3, "labels": false, "title": null}},
           "y": {"field": "v", "type": "quantitative", "scale": {"domain": [-410, -303.2], "nice": false, "zero": false}, "axis": null}}}
      ],
      "resolve": {"axis": {"x": "independent", "y": "independent"}}
    },
    {
      "width": 540, "height": 178,
      "title": {"text": "Z Component", "anchor": "start", "frame": "group", "dx": 6, "fontSize": 13.9, "baseline": "alphabetic", "offset": -8.3},
      "data": {"name": "z"},
      "layer": [
        {"mark": {"type": "line", "color": "#008000", "strokeWidth": 1},
         "encoding": {
           "x": {"field": "h", "type": "quantitative", "scale": {"domain": [0, 24], "nice": false}, "axis": {"orient": "bottom", "values": [0,2,4,6,8,10,12,14,16,18,20,22,24], "grid": true, "tickSize": -5.5, "labelPadding": 11, "format": "d", "title": "UT Hour", "titlePadding": 7}},
           "y": {"field": "v", "type": "quantitative", "scale": {"domain": [54084.3, 54142.4], "nice": false, "zero": false}, "axis": {"orient": "left", "values": [54090,54100,54110,54120,54130,54140], "grid": true, "tickSize": -5.5, "labelPadding": 11, "format": "d", "title": "nT", "titlePadding": 7}}}},
        {"mark": {"type": "line", "opacity": 0},
         "encoding": {
           "x": {"field": "h", "type": "quantitative", "scale": {"domain": [0, 24], "nice": false}, "axis": {"orient": "bottom", "values": [1,3,5,7,9,11,13,15,17,19,21,23], "tickSize": -3, "labels": false, "title": null}},
           "y": {"field": "v", "type": "quantitative", "scale": {"domain": [54084.3, 54142.4], "nice": false, "zero": false}, "axis": {"orient": "right", "values": [54090,54100,54110,54120,54130,54140], "tickSize": -5.5, "labels": false, "title": null}}}},
        {"mark": {"type": "line", "opacity": 0},
         "encoding": {
           "x": {"field": "h", "type": "quantitative", "scale": {"domain": [0, 24], "nice": false}, "axis": {"orient": "top", "values": [0,2,4,6,8,10,12,14,16,18,20,22,24], "tickSize": -5.5, "labels": false, "title": null}},
           "y": {"field": "v", "type": "quantitative", "scale": {"domain": [54084.3, 54142.4], "nice": false, "zero": false}, "axis": null}}},
        {"mark": {"type": "line", "opacity": 0},
         "encoding": {
           "x": {"field": "h", "type": "quantitative", "scale": {"domain": [0, 24], "nice": false}, "axis": {"orient": "top", "values": [1,3,5,7,9,11,13,15,17,19,21,23], "tickSize": -3, "labels": false, "title": null}},
           "y": {"field": "v", "type": "quantitative", "scale": {"domain": [54084.3, 54142.4], "nice": false, "zero": false}, "axis": null}}}
      ],
      "resolve": {"axis": {"x": "independent", "y": "independent"}}
    }
  ]
}
